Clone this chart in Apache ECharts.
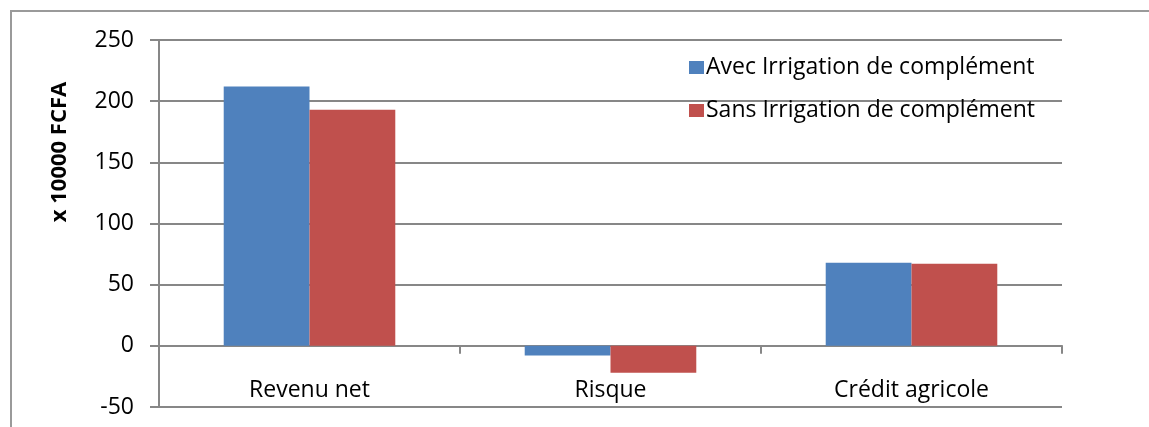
<!DOCTYPE html>
<html>
<head>
<meta charset="utf-8">
<script src="https://cdn.jsdelivr.net/npm/echarts@6/dist/echarts.min.js"></script>
<style>
  html, body { margin: 0; padding: 0; background: #ffffff; }
  #chart { width: 1149px; height: 427px; }
</style>
</head>
<body>
<div id="chart"></div>
<script>
// Categories and series (values in units of 10000 FCFA)
const categories = ['Revenu net', 'Risque', 'Crédit agricole'];
const avecIrrigation = [212, -8, 68];
const sansIrrigation = [193, -22, 67];
const seriesNames = ['Avec Irrigation de complément', 'Sans Irrigation de complément'];
const yAxisTitle = 'x 10000 FCFA';

const FONT = '"Open Sans", "Noto Sans", sans-serif';
const GRID_COLOR = '#878787';

const chart = echarts.init(document.getElementById('chart'), null, { renderer: 'canvas' });

chart.setOption({
  animation: false,
  backgroundColor: '#ffffff',
  grid: { left: 159, right: 87, top: 40, bottom: 20, containLabel: false, outerBoundsMode: 'none' },
  legend: {
    orient: 'vertical',
    left: 684,
    top: 51,
    icon: 'rect',
    itemWidth: 15,
    itemHeight: 13,
    itemGap: 20,
    textStyle: { fontFamily: FONT, fontSize: 23, color: '#000000', padding: [0, 0, 0, -3] },
    data: seriesNames
  },
  xAxis: {
    type: 'category',
    data: categories,
    axisLine: { onZero: true, lineStyle: { color: GRID_COLOR, width: 2 } },
    axisTick: { show: true, alignWithLabel: false, length: 8, lineStyle: { color: GRID_COLOR, width: 2 } },
    // labels sit between the zero line and the bottom gridline
    axisLabel: { fontFamily: FONT, fontSize: 23, color: '#000000', margin: -28 },
    splitLine: { show: false }
  },
  yAxis: {
    type: 'value',
    min: -50,
    max: 250,
    interval: 50,
    axisLine: { show: true, lineStyle: { color: GRID_COLOR, width: 2 } },
    axisTick: { show: true, length: 9, lineStyle: { color: GRID_COLOR, width: 2 } },
    axisLabel: { fontFamily: FONT, fontSize: 23, color: '#000000', margin: 25 },
    splitLine: { show: true, lineStyle: { color: GRID_COLOR, width: 2 } }
  },
  graphic: [
    {
      // rotated axis title, centred on (60, 152)
      type: 'text',
      x: 60,
      y: 152,
      rotation: Math.PI / 2,
      style: {
        text: yAxisTitle,
        fontFamily: FONT,
        fontSize: 22,
        fontWeight: 'bold',
        fill: '#000000',
        align: 'center',
        verticalAlign: 'middle'
      }
    },
    {
      // chart-area frame (left and top edges)
      type: 'polyline',
      silent: true,
      shape: { points: [[11, 440], [11, 11], [1160, 11]] },
      style: { stroke: '#9a9a9a', lineWidth: 2, fill: null }
    }
  ],
  series: [
    {
      name: seriesNames[0],
      type: 'bar',
      data: avecIrrigation,
      barGap: '0%',
      barCategoryGap: '43%',
      itemStyle: { color: '#4F81BD' }
    },
    {
      name: seriesNames[1],
      type: 'bar',
      data: sansIrrigation,
      barGap: '0%',
      barCategoryGap: '43%',
      itemStyle: { color: '#C0504D' }
    }
  ]
});
</script>
</body>
</html>
